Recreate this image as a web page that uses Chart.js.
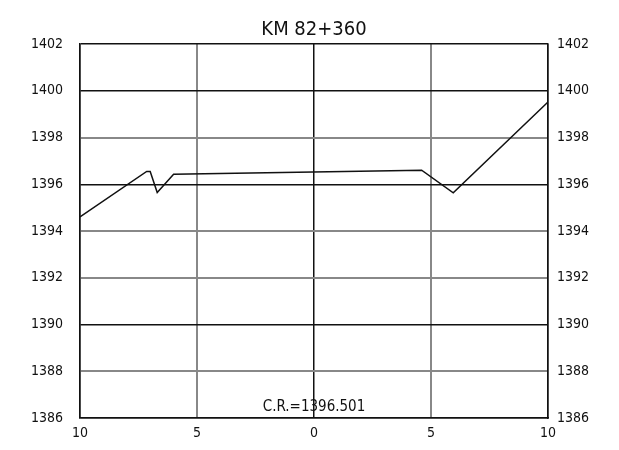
<!DOCTYPE html>
<html>
<head>
<meta charset="utf-8">
<script src="https://cdn.jsdelivr.net/npm/chart.js@4"></script>
<style>
html,body{margin:0;padding:0;background:#fff;}
#wrap{width:619px;height:450px;}
</style>
</head>
<body>
<div id="wrap"><canvas id="c" width="619" height="450"></canvas></div>
<script>
const titleText = "KM 82+360";
const crText = "C.R.=1396.501";
const offsets = [-10, -7.15, -7.0, -6.7, -6.0, 4.6, 5.95, 10];
const elevations = [1394.6, 1396.55, 1396.55, 1395.65, 1396.43, 1396.6, 1395.63, 1399.52];
const xTicks = [-10, -5, 0, 5, 10];
const yTicks = [1386, 1388, 1390, 1392, 1394, 1396, 1398, 1400, 1402];
const darkY = [1386, 1390, 1396, 1400, 1402];

const FONT = "'Liberation Sans Narrow', 'DejaVu Sans Condensed', sans-serif";

const points = offsets.map((x, i) => ({x: x, y: elevations[i]}));

const textPlugin = {
  id: 'texts',
  afterDraw(chart) {
    const ctx = chart.ctx;
    const a = chart.chartArea;
    const xs = chart.scales.x;
    ctx.save();
    ctx.fillStyle = '#111';
    ctx.textAlign = 'center';
    ctx.textBaseline = 'middle';
    ctx.font = "20px " + FONT;
    ctx.fillText(titleText, xs.getPixelForValue(0), 30);
    ctx.font = "15px " + FONT;
    ctx.fillText(crText, xs.getPixelForValue(0), a.bottom - 11);
    ctx.restore();
  }
};

new Chart(document.getElementById('c'), {
  type: 'line',
  data: {
    datasets: [{
      data: points,
      borderColor: '#111',
      borderWidth: 1.5,
      pointRadius: 0,
      tension: 0,
      fill: false
    }]
  },
  options: {
    responsive: false,
    animation: false,
    layout: {padding: {top: 44, left: 0, right: 0, bottom: 0}},
    plugins: {legend: {display: false}, tooltip: {enabled: false}, title: {display: false}},
    scales: {
      x: {
        type: 'linear',
        min: -10, max: 10,
        afterBuildTicks: s => { s.ticks = xTicks.map(v => ({value: v})); },
        afterFit: s => { s.height = 32; },
        border: {display: true, color: '#111', width: 1.5},
        grid: {
          drawTicks: false,
          color: c => (c.tick && c.tick.value === 0) ? '#111' : '#888',
          lineWidth: c => (c.tick && c.tick.value === 0) ? 1.5 : 2
        },
        ticks: {
          padding: 7,
          color: '#111',
          font: {family: FONT, size: 14},
          callback: v => String(Math.abs(v))
        }
      },
      y: {
        type: 'linear',
        position: 'left',
        min: 1386, max: 1402,
        afterBuildTicks: s => { s.ticks = yTicks.map(v => ({value: v})); },
        afterFit: s => { s.width = 80; },
        border: {display: true, color: '#111', width: 1.5},
        grid: {
          drawTicks: false,
          color: c => (c.tick && darkY.includes(c.tick.value)) ? '#111' : '#888',
          lineWidth: c => (c.tick && darkY.includes(c.tick.value)) ? 1.5 : 2
        },
        ticks: {
          padding: 17,
          color: '#111',
          font: {family: FONT, size: 14},
          callback: v => String(v)
        }
      },
      y2: {
        type: 'linear',
        position: 'right',
        min: 1386, max: 1402,
        afterBuildTicks: s => { s.ticks = yTicks.map(v => ({value: v})); },
        afterFit: s => { s.width = 71; },
        border: {display: true, color: '#111', width: 1.5},
        grid: {drawOnChartArea: false, drawTicks: false},
        ticks: {
          padding: 9,
          color: '#111',
          font: {family: FONT, size: 14},
          callback: v => String(v)
        }
      }
    }
  },
  plugins: [textPlugin]
});
</script>
</body>
</html>
